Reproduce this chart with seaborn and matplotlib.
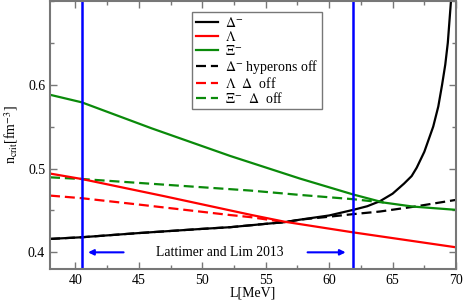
import matplotlib
matplotlib.use("Agg")
import pandas as pd
import seaborn as sns
from matplotlib import pyplot as plt
from matplotlib.ticker import MultipleLocator, FixedLocator

# data
L_delta = [38, 40.5, 45, 50, 52.2, 55, 56.5, 57.7, 60, 61.9, 63, 64, 65, 65.9, 66.5, 66.9, 67.5, 68.2, 68.6, 68.9, 69.15, 69.35, 69.6]
n_delta = [0.416, 0.418, 0.423, 0.428, 0.430, 0.434, 0.436, 0.439, 0.444, 0.4507, 0.455, 0.461, 0.470, 0.482, 0.491, 0.501, 0.520, 0.550, 0.574, 0.600, 0.624, 0.650, 0.700]

L_lambda = [38, 40.5, 47, 53.8, 56.5, 61.9, 70]
n_lambda = [0.494, 0.4875, 0.467, 0.4448, 0.4365, 0.4238, 0.406]

L_xi = [38, 40.5, 46, 52.2, 57.7, 61.9, 64.3, 66.6, 70]
n_xi = [0.588, 0.579, 0.548, 0.515, 0.488, 0.469, 0.4594, 0.4546, 0.4507]

L_delta_off = [38, 40.5, 45, 50, 52.2, 55, 56.5, 57.7, 60, 61.9, 64, 66.75, 70]
n_delta_off = [0.416, 0.418, 0.423, 0.428, 0.430, 0.434, 0.436, 0.439, 0.4425, 0.4456, 0.4487, 0.4546, 0.4626]

L_lambda_off = [38, 40.5, 45, 52.2, 53.8, 56.3]
n_lambda_off = [0.4677, 0.4646, 0.457, 0.4445, 0.442, 0.4365]

L_xi_off = [38, 40.5, 53.8, 57.7, 61.9, 64.3]
n_xi_off = [0.4895, 0.4875, 0.4737, 0.4685, 0.4634, 0.4594]

L_bounds = [40.5, 61.9]
arrow_tails = [43.8, 58.3]
arrow_heads = [41.0, 61.3]
arrow_y = 0.4

y_ticks = [0.4, 0.5, 0.6]

series = [
    (L_delta, n_delta, "black", "-", r"$\Delta^{-}$"),
    (L_lambda, n_lambda, "red", "-", r"$\Lambda$"),
    (L_xi, n_xi, "#0a8a0a", "-", r"$\Xi^{-}$"),
    (L_delta_off, n_delta_off, "black", "--", r"$\Delta^{-}$ hyperons off"),
    (L_lambda_off, n_lambda_off, "red", "--", r"$\Lambda$  $\Delta$  off"),
    (L_xi_off, n_xi_off, "#0a8a0a", "--", r"$\Xi^{-}$  $\Delta$  off"),
]

plt.rcParams["font.family"] = ["Liberation Serif", "DejaVu Serif"]
plt.rcParams["mathtext.fontset"] = "stix"

fig = plt.figure(figsize=(4.63, 3.0), dpi=100)
ax = fig.add_axes([0.108, 0.103, 0.877, 0.894])

# draw the off curves first so the full ones sit on top
order = [4, 3, 5, 0, 1, 2]
handles = {}
for i in order:
    x, y, col, ls, lab = series[i]
    df = pd.DataFrame({"L": x, "n": y})
    sns.lineplot(data=df, x="L", y="n", color=col, linewidth=1.6, ax=ax, label=lab)
    line = ax.get_lines()[-1]
    if ls == "--":
        line.set_dashes((4.5, 2.2))
    handles[i] = line

for xb in L_bounds:
    ax.axvline(xb, color="#0000ff", linewidth=1.8)

for t, h in zip(arrow_tails, arrow_heads):
    ax.annotate("", xy=(h, arrow_y), xytext=(t, arrow_y),
                arrowprops=dict(arrowstyle="-|>", color="#0000ff", lw=1.5,
                                mutation_scale=8, shrinkA=0, shrinkB=0))
ax.text(51.4, arrow_y, "Lattimer and Lim 2013", fontsize=9.8, ha="center", va="center")

ax.set_xlim(38, 70)
ax.set_ylim(0.38, 0.7)
ax.xaxis.set_major_locator(MultipleLocator(5))
ax.xaxis.set_minor_locator(MultipleLocator(2.5))
ax.yaxis.set_major_locator(FixedLocator(y_ticks))
ax.yaxis.set_minor_locator(MultipleLocator(0.05))
ax.tick_params(which="both", direction="in", top=True, right=True, color="#777777",
               labelsize=10, width=1)
ax.tick_params(which="major", length=5)
ax.tick_params(which="minor", length=3)
for sp in ax.spines.values():
    sp.set_color("#777777")
    sp.set_linewidth(1.5)

ax.set_xlabel("L[MeV]", fontsize=10, labelpad=0)
ax.set_ylabel(r"n$_{\rm crit}$[fm$^{-3}$]", fontsize=10, labelpad=6)

leg_handles = [handles[i] for i in range(6)]
leg_labels = [s[4] for s in series]
ax.legend(leg_handles, leg_labels, loc="upper left", bbox_to_anchor=(0.35, 0.957),
          fontsize=10, frameon=True, fancybox=False, edgecolor="#777777",
          framealpha=1, handlelength=1.6, handletextpad=0.5, labelspacing=0.0,
          borderpad=0.25, borderaxespad=0)

fig.savefig("out.png", dpi=100)
